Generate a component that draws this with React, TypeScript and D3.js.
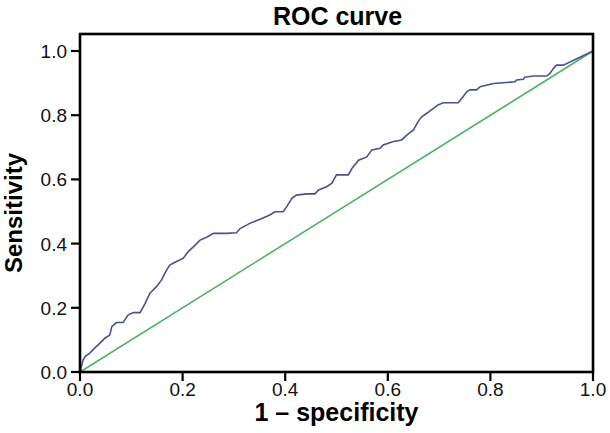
import React from "react";
import * as d3 from "d3";

const fpr = [0, 0.006, 0.01, 0.019, 0.029, 0.039, 0.049, 0.058, 0.062, 0.071, 0.084, 0.094, 0.104, 0.117, 0.127, 0.136, 0.149, 0.159, 0.169, 0.175, 0.188, 0.201, 0.211, 0.221, 0.234, 0.247, 0.26, 0.286, 0.305, 0.312, 0.331, 0.351, 0.37, 0.38, 0.396, 0.403, 0.413, 0.422, 0.442, 0.458, 0.465, 0.481, 0.491, 0.5, 0.523, 0.53, 0.543, 0.559, 0.569, 0.585, 0.591, 0.611, 0.627, 0.637, 0.65, 0.659, 0.666, 0.676, 0.689, 0.698, 0.708, 0.737, 0.744, 0.754, 0.76, 0.773, 0.78, 0.806, 0.848, 0.851, 0.864, 0.867, 0.884, 0.91, 0.916, 0.923, 0.929, 0.942, 1];
const tpr = [0, 0.037, 0.048, 0.059, 0.075, 0.09, 0.106, 0.115, 0.141, 0.154, 0.154, 0.178, 0.185, 0.185, 0.214, 0.245, 0.266, 0.287, 0.318, 0.333, 0.344, 0.354, 0.375, 0.39, 0.411, 0.42, 0.432, 0.432, 0.434, 0.447, 0.463, 0.476, 0.489, 0.499, 0.499, 0.515, 0.541, 0.551, 0.555, 0.555, 0.567, 0.577, 0.588, 0.614, 0.614, 0.634, 0.66, 0.67, 0.692, 0.697, 0.707, 0.718, 0.723, 0.738, 0.754, 0.78, 0.795, 0.806, 0.821, 0.832, 0.839, 0.839, 0.852, 0.873, 0.879, 0.879, 0.889, 0.899, 0.904, 0.91, 0.912, 0.918, 0.922, 0.922, 0.93, 0.946, 0.956, 0.956, 1];
const refX = [0, 1];
const refY = [0, 1];
const ticks = [0, 0.2, 0.4, 0.6, 0.8, 1.0];

const W = 610;
const H = 433;
const left = 80;
const right = 593;
const top = 34;
const bottom = 372;

export default function App() {
  const x = d3.scaleLinear().domain([0, 1]).range([left, right]);
  const y = d3.scaleLinear().domain([0, 1]).range([bottom, 51]);
  const line = d3
    .line<number>()
    .x((_, i) => x(fpr[i]))
    .y((_, i) => y(tpr[i]));
  const refLine = d3
    .line<number>()
    .x((_, i) => x(refX[i]))
    .y((_, i) => y(refY[i]));
  const font = "Liberation Sans, Arial, sans-serif";
  return (
    <svg
      width={W}
      height={H}
      style={{ position: "absolute", left: 0, top: 0, background: "#fff" }}
      fontFamily={font}
    >
      <rect x={0} y={0} width={W} height={H} fill="#fff" />
      <text x={(left + right) / 2 + 1} y={25} textAnchor="middle" fontSize={25} fontWeight="bold">
        ROC curve
      </text>
      <path d={refLine(refX) || ""} fill="none" stroke="#4fb366" strokeWidth={1.6} />
      <path d={line(fpr) || ""} fill="none" stroke="#4b4f96" strokeWidth={1.6} />
      <rect
        x={left}
        y={top}
        width={right - left}
        height={bottom - top}
        fill="none"
        stroke="#000"
        strokeWidth={2.6}
      />
      {ticks.map((t) => (
        <g key={"y" + t}>
          <line x1={left - 9} x2={left} y1={y(t)} y2={y(t)} stroke="#000" strokeWidth={2.2} />
          <text x={left - 13} y={y(t) + 7} textAnchor="end" fontSize={19} fill="#111">
            {d3.format(".1f")(t)}
          </text>
        </g>
      ))}
      {ticks.map((t) => (
        <g key={"x" + t}>
          <line x1={x(t)} x2={x(t)} y1={bottom} y2={bottom + 9} stroke="#000" strokeWidth={2.2} />
          <text x={x(t)} y={bottom + 24} textAnchor="middle" fontSize={19} fill="#111">
            {d3.format(".1f")(t)}
          </text>
        </g>
      ))}
      <text x={(left + right) / 2} y={421} textAnchor="middle" fontSize={25} fontWeight="bold">
        1 – specificity
      </text>
      <text
        transform={`translate(22, ${(top + bottom) / 2 + 10}) rotate(-90)`}
        textAnchor="middle"
        fontSize={24}
        fontWeight="bold"
      >
        Sensitivity
      </text>
    </svg>
  );
}
